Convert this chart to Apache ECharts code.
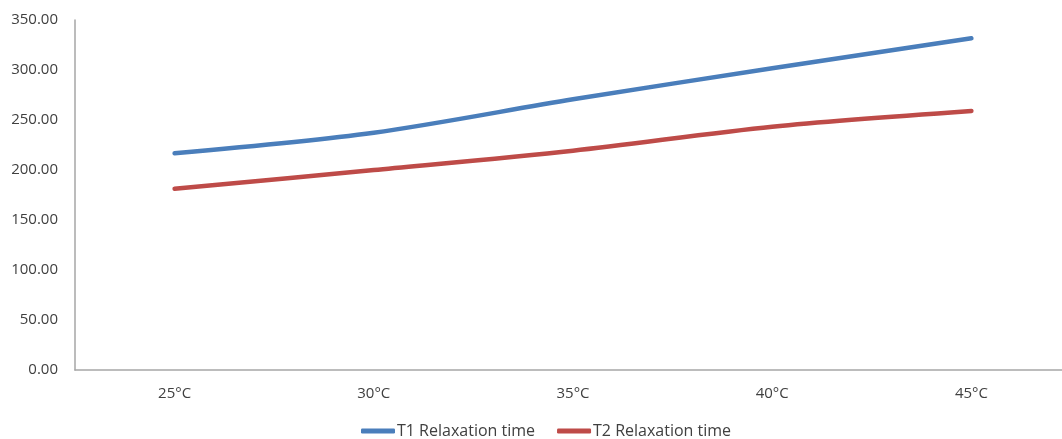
<!DOCTYPE html>
<html>
<head>
<meta charset="utf-8">
<script src="https://cdn.jsdelivr.net/npm/echarts@6/dist/echarts.min.js"></script>
<style>
  html, body { margin: 0; padding: 0; background: #fff; }
  #chart { width: 1062px; height: 439px; }
</style>
</head>
<body>
<div id="chart"></div>
<script>
// Relaxation times by temperature
const categories = ['25°C', '30°C', '35°C', '40°C', '45°C'];
const t1Values = [216.7, 237.3, 270.7, 301.7, 331.7];
const t2Values = [181.3, 200.0, 219.3, 243.3, 259.0];
const seriesNames = ['T1 Relaxation time', 'T2 Relaxation time'];

const chart = echarts.init(document.getElementById('chart'));
const labelFont = { fontFamily: 'Open Sans, Liberation Sans, sans-serif', fontSize: 15, color: '#404040' };

chart.setOption({
  animation: false,
  grid: { left: 75, top: 20, width: 996, height: 350, containLabel: false, outerBoundsMode: 'none' },
  legend: {
    top: 418,
    left: 356,
    itemWidth: 34,
    itemHeight: 5,
    itemGap: 22,
    icon: 'roundRect',
    textStyle: Object.assign({}, labelFont, { fontSize: 16, padding: [0, 0, 0, -3] }),
    data: seriesNames
  },
  xAxis: {
    type: 'category',
    data: categories,
    boundaryGap: true,
    axisLine: { lineStyle: { color: '#a6a6a6', width: 1.5 } },
    axisTick: { show: false },
    axisLabel: Object.assign({}, labelFont, { margin: 16 })
  },
  yAxis: {
    type: 'value',
    min: 0,
    max: 350,
    interval: 50,
    axisLine: { show: true, lineStyle: { color: '#a6a6a6', width: 1.5 } },
    axisTick: { show: false },
    splitLine: { show: false },
    axisLabel: Object.assign({}, labelFont, {
      margin: 17,
      formatter: v => v.toFixed(2)
    })
  },
  series: [
    {
      name: seriesNames[0],
      type: 'line',
      data: t1Values,
      smooth: 0.3,
      symbol: 'none',
      lineStyle: { color: '#4a7ebb', width: 4.5, cap: 'round' },
      itemStyle: { color: '#4a7ebb' }
    },
    {
      name: seriesNames[1],
      type: 'line',
      data: t2Values,
      smooth: 0.3,
      symbol: 'none',
      lineStyle: { color: '#be4b48', width: 4.5, cap: 'round' },
      itemStyle: { color: '#be4b48' }
    }
  ]
});
</script>
</body>
</html>
